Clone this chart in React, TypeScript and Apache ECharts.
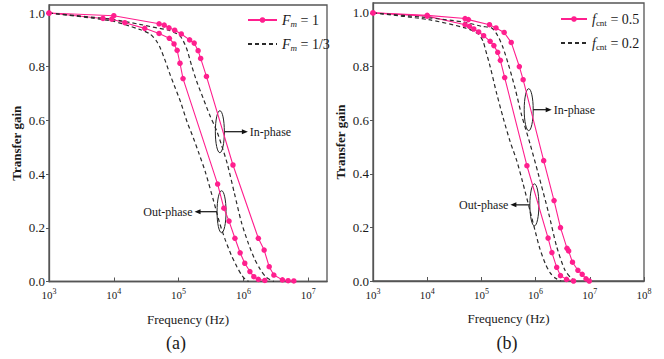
import React, { useEffect, useRef } from 'react';
import * as echarts from 'echarts';

const FONT = '"Liberation Serif", "Times New Roman", Times, serif';
const PINK = '#FF1F8E';
const DASH = '#2a2a2a';
const AXIS = '#555555';
const TXT = '#1a1a1a';

// ---------- panel (a) : F_m ----------
const aInFm1Freq = [1e3, 1e4, 5.0e4, 6.0e4, 7.1e4, 8.7e4, 1.1e5, 1.48e5, 1.74e5, 2.0e5, 2.19e5, 2.69e5, 6.9e5, 1.7e6, 2.09e6, 2.5e6, 2.95e6, 4.0e6, 4.9e6, 6.0e6];
const aInFm1Gain = [1.0, 0.99, 0.96, 0.955, 0.945, 0.936, 0.922, 0.9, 0.888, 0.86, 0.831, 0.764, 0.434, 0.161, 0.117, 0.055, 0.024, 0.006, 0.003, 0.002];
const aOutFm1Freq = [1e3, 6.8e3, 9.3e3, 1.48e4, 3.0e4, 5.0e4, 7.2e4, 8.5e4, 9.5e4, 1.05e5, 1.17e5, 4.0e5, 5.0e5, 6.0e5, 7.4e5, 8.9e5, 1.05e6, 1.26e6, 1.45e6, 1.7e6, 2.14e6];
const aOutFm1Gain = [1.0, 0.98, 0.977, 0.964, 0.943, 0.924, 0.906, 0.885, 0.861, 0.813, 0.756, 0.363, 0.273, 0.225, 0.161, 0.107, 0.068, 0.037, 0.018, 0.008, 0.004];
const aInFm13Freq = [1e3, 9.1e3, 2.5e4, 3.98e4, 7.24e4, 1.05e5, 1.32e5, 1.58e5, 1.91e5, 2.4e5, 3.02e5, 3.89e5, 4.57e5, 5.62e5, 7.24e5, 9.33e5, 1.2e6, 1.48e6, 1.82e6, 2.24e6, 2.95e6];
const aInFm13Gain = [1.0, 0.977, 0.958, 0.948, 0.935, 0.915, 0.87, 0.806, 0.744, 0.682, 0.62, 0.56, 0.51, 0.44, 0.33, 0.22, 0.14, 0.085, 0.045, 0.016, 0.0];
const aOutFm13Freq = [1e3, 9.1e3, 2.5e4, 3.63e4, 4.57e4, 5.25e4, 6.31e4, 7.41e4, 8.91e4, 1.07e5, 1.35e5, 1.7e5, 2.04e5, 2.57e5, 3.47e5, 4.27e5, 5.25e5, 6.46e5, 7.94e5, 9.33e5, 1.07e6, 1.2e6];
const aOutFm13Gain = [1.0, 0.971, 0.939, 0.922, 0.895, 0.868, 0.818, 0.77, 0.72, 0.67, 0.595, 0.533, 0.48, 0.41, 0.3, 0.22, 0.155, 0.1, 0.055, 0.025, 0.008, 0.0];

// ---------- panel (b) : f_cnt ----------
const bIn05Freq = [1e3, 1e4, 5.0e4, 5.75e4, 1.41e5, 1.86e5, 2.63e5, 3.55e5, 5.01e5, 5.89e5, 1.41e6, 2.19e6, 2.88e6, 3.8e6, 4.07e6, 4.79e6, 6.03e6, 7.24e6, 8.51e6, 9.77e6];
const bIn05Gain = [1.0, 0.991, 0.979, 0.975, 0.956, 0.944, 0.927, 0.89, 0.8, 0.751, 0.449, 0.3, 0.199, 0.122, 0.112, 0.07, 0.04, 0.025, 0.008, 0.0];
const bOut05Freq = [1e3, 1e4, 5.0e4, 6.03e4, 7.24e4, 8.91e4, 1.1e5, 1.45e5, 1.7e5, 2.0e5, 2.24e5, 2.69e5, 6.92e5, 1.7e6, 2.0e6, 2.45e6, 2.88e6, 3.72e6, 5.01e6];
const bOut05Gain = [1.0, 0.988, 0.956, 0.95, 0.94, 0.929, 0.915, 0.894, 0.878, 0.853, 0.823, 0.759, 0.43, 0.16, 0.106, 0.051, 0.02, 0.006, 0.0];
const bIn02Freq = [1e3, 1.05e4, 5.01e4, 1e5, 1.55e5, 2.0e5, 2.51e5, 3.16e5, 4.17e5, 5.5e5, 7.94e5, 1.12e6, 1.74e6, 2.45e6, 3.47e6, 4.57e6, 5.5e6];
const bIn02Gain = [1.0, 0.982, 0.965, 0.95, 0.944, 0.915, 0.87, 0.807, 0.72, 0.62, 0.51, 0.4, 0.253, 0.128, 0.041, 0.01, 0.0];
const bOut02Freq = [1e3, 1.05e4, 5.01e4, 8.71e4, 1.07e5, 1.2e5, 1.45e5, 1.91e5, 2.51e5, 3.39e5, 4.47e5, 5.75e5, 7.94e5, 1e6, 1.2e6, 1.51e6, 1.86e6, 2.34e6, 2.95e6];
const bOut02Gain = [1.0, 0.975, 0.944, 0.922, 0.895, 0.86, 0.8, 0.7, 0.61, 0.52, 0.45, 0.37, 0.26, 0.18, 0.12, 0.065, 0.03, 0.01, 0.0];

const xTicksA = [1e3, 1e4, 1e5, 1e6, 1e7];
const xTicksB = [1e3, 1e4, 1e5, 1e6, 1e7, 1e8];
const yTicks = [0, 0.2, 0.4, 0.6, 0.8, 1.0];

const legendA = ['Fm = 1', 'Fm = 1/3'];
const legendB = ['fcnt = 0.5', 'fcnt = 0.2'];

const zip = (xs: number[], ys: number[]) => xs.map((x, i) => [x, ys[i]]);

const solid = (name: string, xs: number[], ys: number[], idx: number) => ({
  type: 'line', name, xAxisIndex: idx, yAxisIndex: idx,
  data: zip(xs, ys), symbol: 'circle', symbolSize: 5.5, showSymbol: true,
  itemStyle: { color: PINK }, lineStyle: { color: PINK, width: 1.1 },
});
const dashed = (name: string, xs: number[], ys: number[], idx: number) => ({
  type: 'line', name, xAxisIndex: idx, yAxisIndex: idx,
  data: zip(xs, ys), symbol: 'none', smooth: 0.25,
  itemStyle: { color: DASH }, lineStyle: { color: DASH, width: 1.2, type: [4, 3] },
});

const xAxis = (idx: number, max: number, ticks: number[]) => ({
  type: 'log', logBase: 10, gridIndex: idx, min: 1e3, max,
  name: 'Frequency (Hz)', nameLocation: 'middle', nameGap: 31,
  nameTextStyle: { fontFamily: FONT, fontSize: 13, color: TXT },
  axisLine: { show: true, lineStyle: { color: AXIS, width: 1.3 } },
  axisTick: { show: true, inside: true, length: 4, lineStyle: { color: AXIS }, customValues: ticks },
  splitLine: { show: false },
  minorTick: { show: false },
  axisLabel: {
    customValues: ticks, margin: 6,
    formatter: (v: number) => `{b|10}{s|${Math.round(Math.log10(v))}}`,
    rich: {
      b: { fontFamily: FONT, fontSize: 11, color: TXT },
      s: { fontFamily: FONT, fontSize: 8, color: TXT, padding: [0, 0, 7, 0] },
    },
  },
});

const yAxis = (idx: number, max: number) => ({
  type: 'value', gridIndex: idx, min: 0, max,
  name: 'Transfer gain', nameLocation: 'middle', nameGap: 26,
  nameTextStyle: { fontFamily: FONT, fontSize: 13, fontWeight: 'bold', color: TXT },
  axisLine: { show: true, lineStyle: { color: AXIS, width: 1.3 } },
  axisTick: { show: true, inside: false, length: 3, lineStyle: { color: AXIS }, customValues: yTicks },
  splitLine: { show: false },
  axisLabel: {
    customValues: yTicks, margin: 4,
    formatter: (v: number) => v.toFixed(1),
    fontFamily: FONT, fontSize: 13, color: TXT,
  },
});

const richLegend = {
  i: { fontFamily: FONT, fontSize: 14, fontStyle: 'italic', color: TXT },
  sm: { fontFamily: FONT, fontSize: 9, fontStyle: 'italic', color: TXT, padding: [7, 0, 0, 0] },
  su: { fontFamily: FONT, fontSize: 9, color: TXT, padding: [7, 0, 0, 0] },
  t: { fontFamily: FONT, fontSize: 14, color: TXT },
};

const legendFmt = (name: string) => {
  if (name.startsWith('Fm')) return `{i|F}{sm|m}{t|${name.slice(2)}}`;
  return `{i|f}{su|cnt}{t|${name.slice(4)}}`;
};

const noMarker = { color: 'transparent', opacity: 0, borderWidth: 0 };

export default function App() {
  const ref = useRef<HTMLDivElement>(null);
  useEffect(() => {
    document.body.style.margin = '0';
    if (!ref.current) return;
    const chart = echarts.init(ref.current, null, { renderer: 'svg' });
    const option: any = {
      animation: false,
      backgroundColor: '#ffffff',
      grid: [
        { left: 49, top: 5, width: 278, height: 276.5, show: true, borderColor: AXIS, borderWidth: 1.3, backgroundColor: 'transparent' },
        { left: 373, top: 3, width: 271, height: 278, show: true, borderColor: AXIS, borderWidth: 1.3, backgroundColor: 'transparent' },
      ],
      xAxis: [xAxis(0, Math.pow(10, 7.29), xTicksA), xAxis(1, 1e8, xTicksB)],
      yAxis: [yAxis(0, 1.03), yAxis(1, 1.037)],
      legend: [
        {
          data: [legendA[0], { name: legendA[1], itemStyle: noMarker }],
          orient: 'vertical', left: 247, top: 13, itemWidth: 29, itemHeight: 7, itemGap: 9,
          formatter: legendFmt, textStyle: { rich: richLegend, fontFamily: FONT, fontSize: 14, color: TXT },
          selectedMode: false, padding: 0,
        },
        {
          data: [legendB[0], { name: legendB[1], itemStyle: noMarker }],
          orient: 'vertical', left: 560, top: 12, itemWidth: 26, itemHeight: 7, itemGap: 9,
          formatter: legendFmt, textStyle: { rich: richLegend, fontFamily: FONT, fontSize: 14, color: TXT },
          selectedMode: false, padding: 0,
        },
      ],
      series: [
        solid('Fm = 1', aInFm1Freq, aInFm1Gain, 0),
        solid('Fm = 1', aOutFm1Freq, aOutFm1Gain, 0),
        dashed('Fm = 1/3', aInFm13Freq, aInFm13Gain, 0),
        dashed('Fm = 1/3', aOutFm13Freq, aOutFm13Gain, 0),
        solid('fcnt = 0.5', bIn05Freq, bIn05Gain, 1),
        solid('fcnt = 0.5', bOut05Freq, bOut05Gain, 1),
        dashed('fcnt = 0.2', bIn02Freq, bIn02Gain, 1),
        dashed('fcnt = 0.2', bOut02Freq, bOut02Gain, 1),
      ],
    };
    chart.setOption(option);

    // annotations anchored to data coordinates
    const anchors = [
      { grid: 0, f: 4.33e5, v: 0.558, dir: 1, len: 28, text: 'In-phase' },
      { grid: 0, f: 4.6e5, v: 0.26, dir: -1, len: 27, text: 'Out-phase' },
      { grid: 1, f: 7.46e5, v: 0.639, dir: 1, len: 23, text: 'In-phase' },
      { grid: 1, f: 9.5e5, v: 0.284, dir: -1, len: 24, text: 'Out-phase' },
    ];
    const elements: any[] = [];
    anchors.forEach((a) => {
      const p = chart.convertToPixel({ gridIndex: a.grid } as any, [a.f, a.v]) as number[];
      const [cx, cy] = p;
      const rx = 4.5, ry = 21;
      elements.push({ type: 'ellipse', shape: { cx, cy, rx, ry }, style: { fill: 'none', stroke: '#222', lineWidth: 1 }, silent: true });
      const x1 = cx + a.dir * rx;
      const tip = cx + a.dir * a.len;
      elements.push({ type: 'line', shape: { x1, y1: cy, x2: tip - a.dir * 4, y2: cy }, style: { stroke: '#111', lineWidth: 1.2 }, silent: true });
      elements.push({ type: 'polygon', shape: { points: [[tip, cy], [tip - a.dir * 6, cy - 2.5], [tip - a.dir * 6, cy + 2.5]] }, style: { fill: '#111' }, silent: true });
      elements.push({
        type: 'text', x: tip + a.dir * 2, y: cy,
        style: { text: a.text, fontFamily: FONT, fontSize: 12, fill: TXT, align: a.dir > 0 ? 'left' : 'right', verticalAlign: 'middle' },
        silent: true,
      });
    });
    elements.push({ type: 'text', x: 176, y: 343, style: { text: '(a)', fontFamily: FONT, fontSize: 18, fill: TXT, align: 'center', verticalAlign: 'middle' } });
    elements.push({ type: 'text', x: 507, y: 343, style: { text: '(b)', fontFamily: FONT, fontSize: 18, fill: TXT, align: 'center', verticalAlign: 'middle' } });
    chart.setOption({ graphic: { elements } });

    return () => chart.dispose();
  }, []);
  return <div ref={ref} style={{ width: 664, height: 359 }} />;
}
